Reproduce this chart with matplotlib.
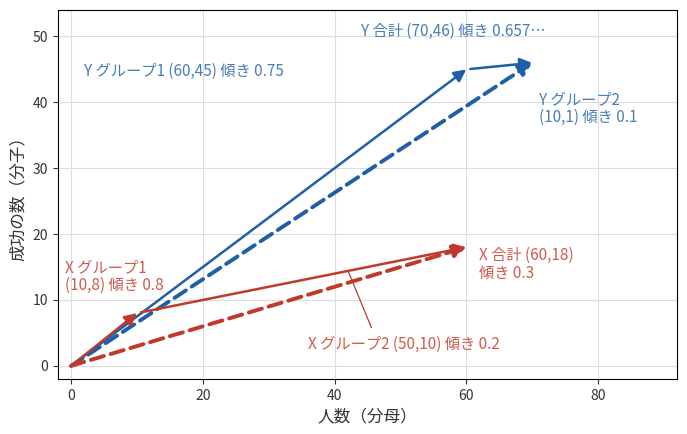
import matplotlib
matplotlib.use("Agg")
import matplotlib.pyplot as plt

plt.rcParams['font.family'] = ['Noto Sans CJK JP', 'DejaVu Sans']

# data
y_g1 = (60, 45)
y_g2 = (10, 1)
x_g1 = (10, 8)
x_g2 = (50, 10)
y_tot = (y_g1[0] + y_g2[0], y_g1[1] + y_g2[1])
x_tot = (x_g1[0] + x_g2[0], x_g1[1] + x_g2[1])

labels = {
    'y_g1': "Y グループ1 (60,45) 傾き 0.75",
    'y_g2': "Y グループ2\n(10,1) 傾き 0.1",
    'y_tot': "Y 合計 (70,46) 傾き 0.657…",
    'x_g1': "X グループ1\n(10,8) 傾き 0.8",
    'x_g2': "X グループ2 (50,10) 傾き 0.2",
    'x_tot': "X 合計 (60,18)\n傾き 0.3",
}

blue = '#1f5fa8'
red = '#c0392b'
blue_t = '#4a7db9'
red_t = '#d25a4e'

fig = plt.figure(figsize=(6.87, 4.34), dpi=100)
ax = fig.add_axes([0.0844, 0.1267, 0.901, 0.850])

def arrow(start, end, color, dashed=False, shrinkA=0):
    props = dict(arrowstyle='-|>', color=color, mutation_scale=18,
                 lw=2.8 if dashed else 1.8,
                 shrinkA=shrinkA, shrinkB=0)
    if dashed:
        props['linestyle'] = (0, (3.5, 1.8))
    ax.annotate("", xy=end, xytext=start, arrowprops=props)

# Y
arrow((0, 0), y_g1, blue)
arrow(y_g1, y_tot, blue, shrinkA=3)
arrow((0, 0), y_tot, blue, dashed=True)
# X
arrow((0, 0), x_g1, red)
arrow(x_g1, x_tot, red, shrinkA=3)
arrow((0, 0), x_tot, red, dashed=True)

fs = 11
ax.text(2, 44.7, labels['y_g1'], color=blue_t, fontsize=fs, va='center')
ax.text(44, 50.8, labels['y_tot'], color=blue_t, fontsize=fs, va='center')
ax.text(71, 39, labels['y_g2'], color=blue_t, fontsize=fs, va='center', linespacing=1.05)
ax.text(-1, 13.5, labels['x_g1'], color=red_t, fontsize=fs, va='center', linespacing=1.05)
ax.text(62, 15.4, labels['x_tot'], color=red_t, fontsize=fs, va='center', linespacing=1.05)
ax.text(36, 3.2, labels['x_g2'], color=red_t, fontsize=fs, va='center')
ax.annotate("", xy=(42.1, 14.3), xytext=(45.6, 5.8),
            arrowprops=dict(arrowstyle='-', color=red, lw=0.9, shrinkA=0, shrinkB=0))

ax.set_xlim(-2, 92)
ax.set_ylim(-2, 54)
ax.set_xticks([0, 20, 40, 60, 80])
ax.set_yticks([0, 10, 20, 30, 40, 50])
ax.grid(True, color='#dddddd', lw=0.8)
ax.set_axisbelow(True)
ax.tick_params(labelsize=10, colors='#333333')
ax.set_xlabel("人数（分母）", fontsize=12, color='#333333')
ax.set_ylabel("成功の数（分子）", fontsize=12, color='#333333')

fig.savefig("out.png", dpi=100)
